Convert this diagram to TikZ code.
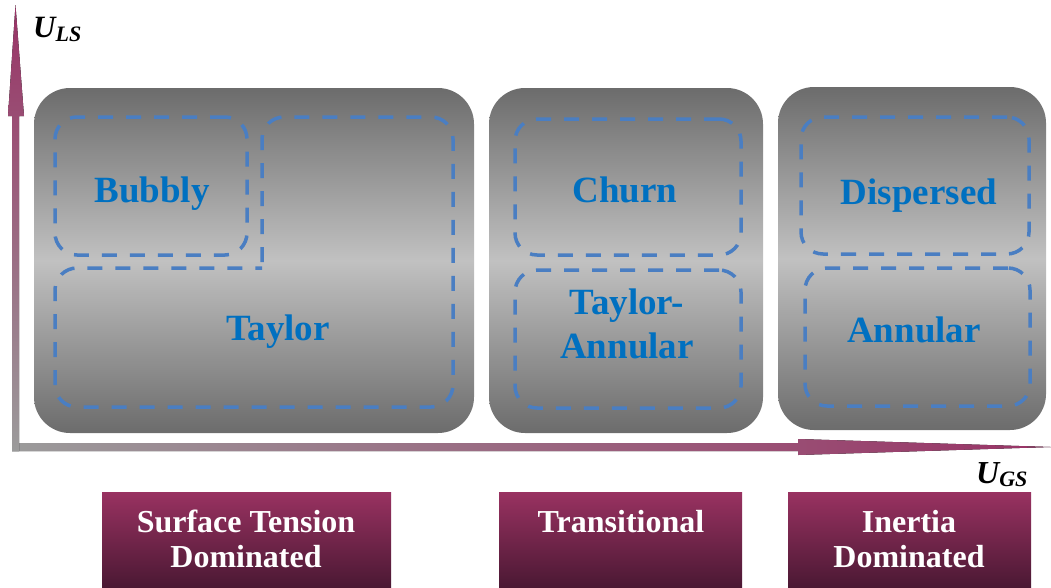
\documentclass[tikz,border=0pt]{standalone}
\usepackage{fontspec}
\setmainfont{Liberation Serif}
\definecolor{panelDark}{RGB}{108,108,108}
\definecolor{panelLight}{RGB}{193,193,193}
\definecolor{axisGray}{RGB}{155,155,155}
\definecolor{axisMag}{RGB}{153,51,102}
\definecolor{dashBlue}{RGB}{74,126,194}
\definecolor{textBlue}{RGB}{0,112,192}
\definecolor{bandTop}{RGB}{153,50,97}
\definecolor{bandMid}{RGB}{128,42,84}
\definecolor{bandBottom}{RGB}{74,24,51}
\begin{document}
\begin{tikzpicture}[x=1pt,y=-1pt,
  panel/.style={draw=none, rounded corners=36pt, inner sep=0pt, outer sep=0pt,
    top color=panelDark, bottom color=panelDark, middle color=panelLight},
  region/.style={draw=dashBlue, line width=3.5pt, dash pattern=on 15pt off 13pt,
    rounded corners=22pt},
  regionbox/.style={region, inner sep=0pt, outer sep=0pt},
  regime/.style={font=\fontsize{37}{42}\selectfont\bfseries, text=textBlue,
    anchor=base, inner sep=0pt},
  band/.style={draw=none, inner sep=0pt, outer sep=0pt,
    top color=bandTop, middle color=bandMid, bottom color=bandBottom},
  bandtext/.style={font=\fontsize{32}{36}\selectfont\bfseries, text=white,
    anchor=base, inner sep=0pt},
  axislabel/.style={anchor=base west, inner sep=0pt},
]
\useasboundingbox (0,0) rectangle (1051,587);

% axes: thin shafts ending in long tapered heads
\fill[left color=axisGray, right color=axisMag]
  (12,443) -- (798,443) -- (798,439) -- (1051,447) -- (798,455) -- (798,451)
  -- (12,451) -- cycle;
\fill[bottom color=axisGray, top color=axisMag]
  (12,451) -- (12,116) -- (8,116) -- (15.5,5) -- (24,116) -- (19,116)
  -- (19,451) -- cycle;

\node[axislabel] (uls) at (33,37)
  {\fontsize{31}{34}\selectfont\bfseries\itshape U\raisebox{-4pt}{\fontsize{22}{24}\selectfont LS}};
\node[axislabel] (ugs) at (976,483)
  {\fontsize{32}{34}\selectfont\bfseries\itshape U\raisebox{-3pt}{\fontsize{22}{24}\selectfont GS}};

% regime panels
\node[panel, minimum width=440pt, minimum height=345pt] (p1) at (254,260.5) {};
\node[panel, minimum width=274pt, minimum height=345pt] (p2) at (626,260.5) {};
\node[panel, minimum width=268pt, minimum height=343pt] (p3) at (912,258.5) {};

% flow pattern regions
\node[regionbox, minimum width=192pt, minimum height=138pt] (rbubbly) at (151,186) {};
\draw[region] (262,262) -- (262,117) -- (453,117) -- (453,407) -- (55,407)
  -- (55,268) -- (262,268);
\node[regionbox, minimum width=226pt, minimum height=136pt] (rchurn) at (628,187) {};
\node[regionbox, minimum width=226pt, minimum height=138pt] (rta) at (628,339) {};
\node[regionbox, minimum width=228pt, minimum height=137pt] (rdisp) at (915,185.5) {};
\node[regionbox, minimum width=225pt, minimum height=138pt] (rann) at (917.5,337) {};

\node[regime] (tbubbly) at (152,202) {Bubbly};
\node[regime] (ttaylor) at (278,340) {Taylor};
\node[regime] (tchurn) at (625,202) {Churn};
\node[regime] (tta1) at (627,314) {Taylor-};
\node[regime] (tta2) at (627,358) {Annular};
\node[regime] (tdisp) at (919,204) {Dispersed};
\node[regime] (tann) at (914,342) {Annular};

% governing-force bands
\node[band, minimum width=289pt, minimum height=96pt] (b1) at (246.5,540) {};
\node[band, minimum width=243pt, minimum height=96pt] (b2) at (620.5,540) {};
\node[band, minimum width=243pt, minimum height=96pt] (b3) at (909.5,540) {};

\node[bandtext] (s1a) at (246,532) {Surface Tension};
\node[bandtext] (s1b) at (246,567) {Dominated};
\node[bandtext] (s2) at (621,532) {Transitional};
\node[bandtext] (s3a) at (909,532) {Inertia};
\node[bandtext] (s3b) at (909,567) {Dominated};
\end{tikzpicture}
\end{document}
